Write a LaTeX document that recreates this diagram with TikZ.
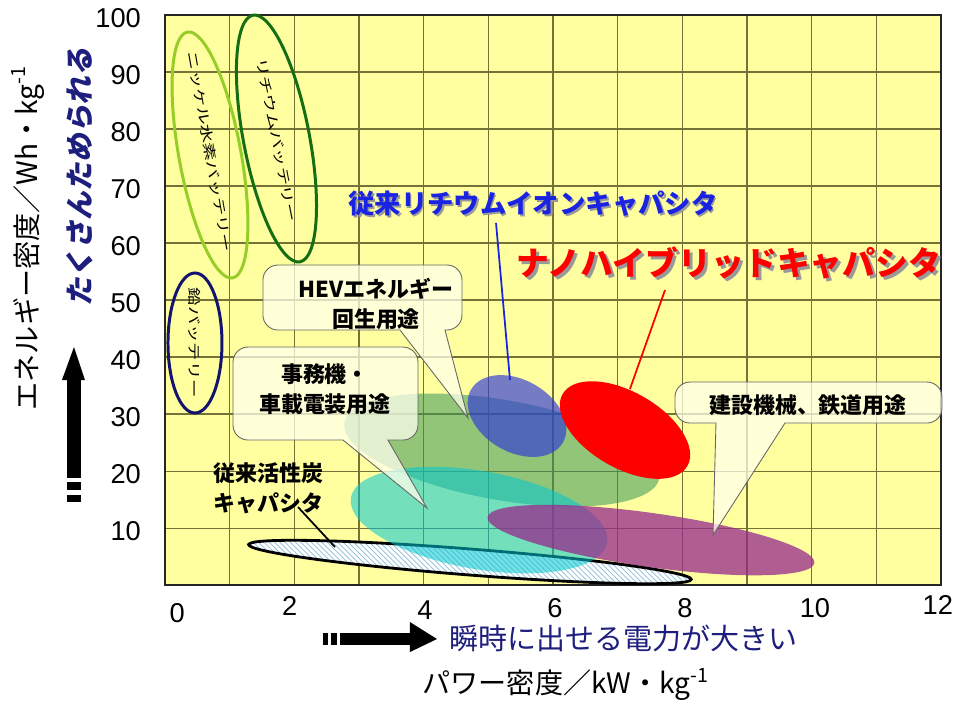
\documentclass[tikz,border=0pt]{standalone}
\usepackage{fontspec}
\setmainfont{Noto Sans CJK JP}
\newfontfamily\arial{Liberation Sans}
\usetikzlibrary{patterns}
\definecolor{plotbg}{RGB}{255,255,160}
\definecolor{gridc}{RGB}{115,115,55}
\definecolor{navy}{RGB}{30,30,125}
\definecolor{licblue}{RGB}{25,35,225}
\definecolor{nimh}{RGB}{150,205,40}
\definecolor{libat}{RGB}{20,110,20}
\definecolor{leadc}{RGB}{20,20,110}
\definecolor{hevc}{RGB}{60,150,90}
\definecolor{officec}{RGB}{0,200,210}
\definecolor{railc}{RGB}{150,40,140}
\definecolor{oldlic}{RGB}{45,55,215}
\definecolor{hatchc}{RGB}{140,190,215}
\tikzstyle{gridline}=[draw=gridc, line width=0.6pt]
\tikzstyle{battery}=[line width=1.7pt]
\tikzstyle{bubble}=[fill=white!80!plotbg, fill opacity=0.75, draw=black!60, line width=0.5pt]
\tikzstyle{annot}=[align=center, font=\bfseries\fontsize{12.5}{17}\selectfont]
\tikzstyle{ticklabel}=[font=\arial\fontsize{15.5}{18}\selectfont, inner sep=1pt]
\tikzstyle{inlabel}=[font=\fontsize{7.5}{9}\selectfont, xscale=1.4, inner sep=0pt]
\tikzstyle{axtitle}=[font=\fontsize{16}{19}\selectfont]
\newcommand{\bubr}{0.3cm}
% text with a grey drop shadow
\newcommand{\shadowed}[2]{\makebox[0pt][l]{\raisebox{-#1}{\hspace{#1}\textcolor{black!40}{#2}}}#2}
% left, right, bottom, top, base from, base to, tip x, tip y
\newcommand{\balloon}[8]
{
  \draw[bubble] (#5,#3) -- (#7,#8) -- (#6,#3) -- ([xshift=-\bubr]#2,#3) arc[start angle=-90, end angle=0, radius=\bubr]
    -- ([yshift=-\bubr]#2,#4) arc[start angle=0, end angle=90, radius=\bubr]
    -- ([xshift=\bubr]#1,#4) arc[start angle=90, end angle=180, radius=\bubr]
    -- ([yshift=\bubr]#1,#3) arc[start angle=180, end angle=270, radius=\bubr] -- cycle;
}
\begin{document}
\begin{tikzpicture}[x=1.2933cm, y=0.114cm]
	\useasboundingbox (-2.551,-20.175) rectangle (12.247,102.632);

	% plot area
	\fill[plotbg] (0,0) rectangle (12,100);
	\draw[gridline] (0,0) grid[xstep=1, ystep=10] (12,100);
	\draw[black!85, line width=0.8pt] (0,0) rectangle (12,100);

	% activated carbon
	\draw[line width=1.6pt, preaction={fill=white}, pattern=north west lines, pattern color=hatchc, rotate around={-4.5:(4.716,4.04)}] (4.716,4.04) ellipse[x radius=4.44cm, y radius=0.26cm];

	% application areas
	\fill[hevc, fill opacity=0.55, rotate around={-10:(5.211,23.68)}] (5.211,23.68) ellipse[x radius=3.2cm, y radius=1.0cm];
	\fill[officec, fill opacity=0.55, rotate around={-10:(4.855,11.40)}] (4.855,11.40) ellipse[x radius=2.6cm, y radius=0.98cm];
	\fill[railc, fill opacity=0.75, rotate around={-8:(7.515,7.89)}] (7.515,7.89) ellipse[x radius=3.3cm, y radius=0.54cm];
	\fill[oldlic, fill opacity=0.65, rotate around={-30:(5.443,29.65)}] (5.443,29.65) ellipse[x radius=1.06cm, y radius=0.72cm];
	\fill[red, rotate around={-30:(7.113,27.19)}] (7.113,27.19) ellipse[x radius=1.44cm, y radius=0.76cm];

	% batteries
	\draw[nimh, battery, rotate around={-79.6:(0.696,75.44)}] (0.696,75.44) ellipse[x radius=2.5cm, y radius=0.62cm];
	\draw[libat, battery, rotate around={-79.2:(1.724,78.33)}] (1.724,78.33) ellipse[x radius=2.51cm, y radius=0.66cm];
	\draw[leadc, battery] (0.464,42.46) ellipse[x radius=0.54cm, y radius=1.4cm];
	\node[rotate=-80, inlabel] (nimhtext) at (0.696,75.96) {ニッケル水素バッテリー};
	\node[rotate=-79, inlabel] (libtext) at (1.732,78.07) {リチウムバッテリー};
	\node[rotate=-90, inlabel] (leadtext) at (0.464,42.46) {鉛バッテリー};

	% callouts
	\balloon{1.515}{4.593}{44.74}{56.14}{3.634}{4.330}{4.685}{29.30}
	\balloon{1.052}{3.912}{25.44}{41.75}{2.752}{3.448}{4.051}{13.51}
	\balloon{7.886}{12.015}{28.42}{35.61}{8.520}{9.587}{8.474}{8.77}
	\node[annot] (hev) at (3.263,49.30) {HEVエネルギー\\回生用途};
	\node[annot] (office) at (2.474,34.39) {事務機・\\車載電装用途};
	\node[annot] (rail) at (9.943,31.58) {建設機械、鉄道用途};
	\node[annot, align=left, anchor=west] (carbon) at (0.649,17.02) {従来活性炭\\キャパシタ};

	% capacitor labels
	\node[font=\bfseries\fontsize{15}{18}\selectfont, text=licblue] (lic) at (5.690,66.67) {\shadowed{1pt}{従来リチウムイオンキャパシタ}};
	\node[font=\bfseries\fontsize{18.7}{22}\selectfont, text=red] (nano) at (8.721,56.32) {\shadowed{1.7pt}{ナノハイブリッドキャパシタ}};

	\coordinate (lictop) at (5.119,63.51);
	\coordinate (licend) at (5.335,35.96);
	\coordinate (nanotop) at (7.732,51.75);
	\coordinate (nanoend) at (7.190,34.39);
	\coordinate (carbontop) at (2.057,13.68);
	\coordinate (carbonend) at (2.629,6.67);
	\draw[licblue, line width=1pt] (lictop) -- (licend);
	\draw[red, line width=1pt] (nanotop) -- (nanoend);
	\draw[black, line width=1pt] (carbontop) -- (carbonend);

	% ticks
	\foreach \v in {10,20,...,100}
		\node[ticklabel, anchor=east] (y\v) at (-0.34,\v-0.6) {\v};
	\foreach \lab/\xx/\yy in {0/0.19/-4.9, 2/1.93/-3.7, 4/4.02/-4.4, 6/6.03/-4.0, 8/8.04/-4.0, 10/10.05/-4.0, 12/11.95/-3.5}
		\node[ticklabel] (x\lab) at (\xx,\yy) {\lab};

	% axis arrows
	\fill (-1.515,18.77) rectangle (-1.299,35.96);
	\fill (-1.593,35.96) -- (-1.407,41.75) -- (-1.237,35.96) -- cycle;
	\fill (-1.515,18.07) rectangle (-1.299,16.67);
	\fill (-1.515,15.79) rectangle (-1.299,14.56);
	\fill (2.706,-8.42) rectangle (3.788,-10.53);
	\fill (3.788,-6.49) -- (4.206,-9.47) -- (3.788,-11.75) -- cycle;
	\fill (2.443,-8.42) rectangle (2.521,-10.53);
	\fill (2.567,-8.42) rectangle (2.660,-10.53);

	% axis titles
	\node[axtitle, rotate=90] (ytitle) at (-2.118,60.88) {エネルギー密度／Wh・kg\textsuperscript{-1}};
	\node[axtitle, rotate=90, xslant=0.2, text=navy, font=\bfseries\fontsize{16.4}{19}\selectfont] (ymore) at (-1.314,71.93) {たくさんためられる};
	\node[axtitle] (xtitle) at (6.201,-17.37) {パワー密度／kW・kg\textsuperscript{-1}};
	\node[axtitle, text=navy, anchor=west, inner sep=1pt, font=\fontsize{16.5}{19}\selectfont] (xmore) at (4.361,-9.3) {瞬時に出せる電力が大きい};
\end{tikzpicture}
\end{document}
